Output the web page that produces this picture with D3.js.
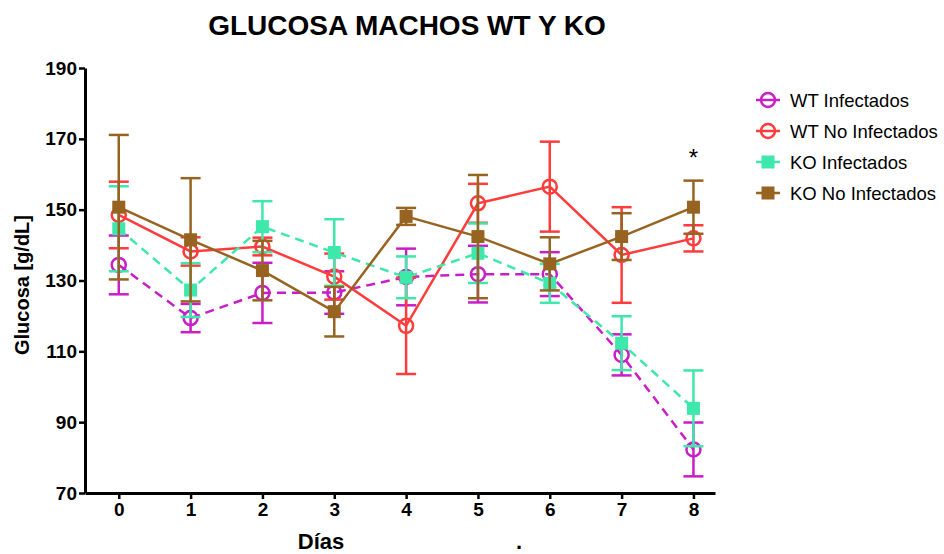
<!DOCTYPE html>
<html>
<head>
<meta charset="utf-8">
<script src="https://cdn.jsdelivr.net/npm/d3@7"></script>
<style>
  body { margin: 0; background: #fff; }
  svg { font-family: "Liberation Sans", Arial, sans-serif; }
</style>
</head>
<body>
<svg id="chart" width="944" height="554"></svg>
<script>
// data
const days = [0, 1, 2, 3, 4, 5, 6, 7, 8];
const yTicks = [70, 90, 110, 130, 150, 170, 190];
const seriesNames = ["WT Infectados", "WT No Infectados", "KO Infectados", "KO No Infectados"];

const wtInfMean = [134.4, 119.4, 126.5, 126.6, 131.0, 131.8, 131.8, 109.0, 82.3];
const wtInfErr  = [8.3, 4.0, 8.5, 6.0, 8.0, 8.0, 6.2, 5.8, 7.6];
const wtNoMean  = [148.5, 138.2, 139.6, 131.1, 117.2, 151.8, 156.5, 137.2, 141.9];
const wtNoErr   = [9.4, 4.0, 2.5, 6.5, 13.6, 5.5, 12.7, 13.5, 3.7];
const koInfMean = [144.6, 127.3, 145.2, 137.9, 130.9, 137.7, 129.2, 112.3, 93.9];
const koInfErr  = [12.0, 7.6, 7.2, 9.4, 5.9, 8.4, 5.5, 7.6, 10.7];
const koNoMean  = [150.7, 141.5, 132.8, 121.2, 148.1, 142.4, 134.7, 142.4, 150.7];
const koNoErr   = [20.4, 17.4, 8.4, 7.0, 2.4, 17.4, 7.5, 6.6, 7.5];

const series = [
  { name: seriesNames[0], mean: wtInfMean, err: wtInfErr, color: "#c81ec8", dash: "9,6", shape: "circle" },
  { name: seriesNames[1], mean: wtNoMean, err: wtNoErr, color: "#ff3c3c", dash: null, shape: "circle" },
  { name: seriesNames[2], mean: koInfMean, err: koInfErr, color: "#3ee8aa", dash: "9,6", shape: "square" },
  { name: seriesNames[3], mean: koNoMean, err: koNoErr, color: "#966420", dash: null, shape: "square" }
];

const svg = d3.select("#chart");

const x = d3.scaleLinear().domain([-0.47, 8.3]).range([85, 715]);
const y = d3.scaleLinear().domain([70, 190]).range([493, 68]);

// Title
svg.append("text")
  .attr("x", 407).attr("y", 35)
  .attr("text-anchor", "middle")
  .style("font-size", "28px").style("font-weight", "bold")
  .text("GLUCOSA MACHOS WT Y KO");

// Axes
const xAxis = svg.append("g")
  .attr("transform", `translate(0,${y(70)})`)
  .call(d3.axisBottom(x).tickValues(days).tickSize(6).tickSizeOuter(0).tickPadding(4));
const yAxis = svg.append("g")
  .attr("transform", `translate(${x(-0.47)},0)`)
  .call(d3.axisLeft(y).tickValues(yTicks).tickSize(6).tickSizeOuter(0).tickPadding(2));

[xAxis, yAxis].forEach(g => {
  g.select(".domain").attr("stroke", "#000").attr("stroke-width", 3);
  g.selectAll(".tick line").attr("stroke", "#000").attr("stroke-width", 2.5);
  g.selectAll(".tick text")
    .attr("fill", "#000")
    .style("font-size", "19px").style("font-weight", "bold")
    .style("font-family", "'Liberation Sans', Arial, sans-serif");
});

// Axis labels
svg.append("text")
  .attr("transform", `translate(29, 285) rotate(-90)`)
  .attr("text-anchor", "middle")
  .style("font-size", "20px").style("font-weight", "bold")
  .text("Glucosa [g/dL]");

svg.append("text")
  .attr("x", 321).attr("y", 549)
  .attr("text-anchor", "middle")
  .style("font-size", "22px").style("font-weight", "bold")
  .text("Días");

svg.append("text")
  .attr("x", 519).attr("y", 549)
  .attr("text-anchor", "middle")
  .style("font-size", "22px").style("font-weight", "bold")
  .text(".");

const line = d3.line().x((d, i) => x(days[i])).y(d => y(d));
const capW = 10;

function drawMarker(g, shape, color) {
  if (shape === "circle") {
    g.append("circle").attr("r", 7)
      .attr("fill", "#fff").attr("fill-opacity", 0)
      .attr("stroke", color).attr("stroke-width", 2.5);
  } else {
    g.append("rect").attr("x", -6.5).attr("y", -6.5)
      .attr("width", 13).attr("height", 13)
      .attr("fill", color);
  }
}

series.forEach(s => {
  const g = svg.append("g");
  // error bars
  const eb = g.selectAll(".eb").data(s.mean).join("g")
    .attr("transform", (d, i) => `translate(${x(days[i])},0)`);
  eb.append("line")
    .attr("y1", (d, i) => y(d + s.err[i])).attr("y2", (d, i) => y(d - s.err[i]))
    .attr("stroke", s.color).attr("stroke-width", 2.5);
  eb.append("line")
    .attr("x1", -capW).attr("x2", capW)
    .attr("y1", (d, i) => y(d + s.err[i])).attr("y2", (d, i) => y(d + s.err[i]))
    .attr("stroke", s.color).attr("stroke-width", 2.5);
  eb.append("line")
    .attr("x1", -capW).attr("x2", capW)
    .attr("y1", (d, i) => y(d - s.err[i])).attr("y2", (d, i) => y(d - s.err[i]))
    .attr("stroke", s.color).attr("stroke-width", 2.5);
  // line
  g.append("path")
    .attr("d", line(s.mean))
    .attr("fill", "none")
    .attr("stroke", s.color).attr("stroke-width", 2.5)
    .attr("stroke-dasharray", s.dash);
  // markers
  g.selectAll(".mk").data(s.mean).join("g")
    .attr("transform", (d, i) => `translate(${x(days[i])},${y(d)})`)
    .each(function () { drawMarker(d3.select(this), s.shape, s.color); });
});

// significance mark
svg.append("text")
  .attr("x", x(8)).attr("y", 166)
  .attr("text-anchor", "middle")
  .style("font-size", "24px")
  .text("*");

// Legend
const legend = svg.append("g").attr("transform", "translate(768,100)");
const items = legend.selectAll("g").data(series).join("g")
  .attr("transform", (d, i) => `translate(0,${i * 31})`);
items.append("line")
  .attr("x1", -12).attr("x2", 12)
  .attr("stroke", d => d.color).attr("stroke-width", 2.5);
items.each(function (d) { drawMarker(d3.select(this), d.shape, d.color); });
items.append("text")
  .attr("x", 22).attr("y", 6.5)
  .style("font-size", "18.5px")
  .text(d => d.name);
</script>
</body>
</html>
